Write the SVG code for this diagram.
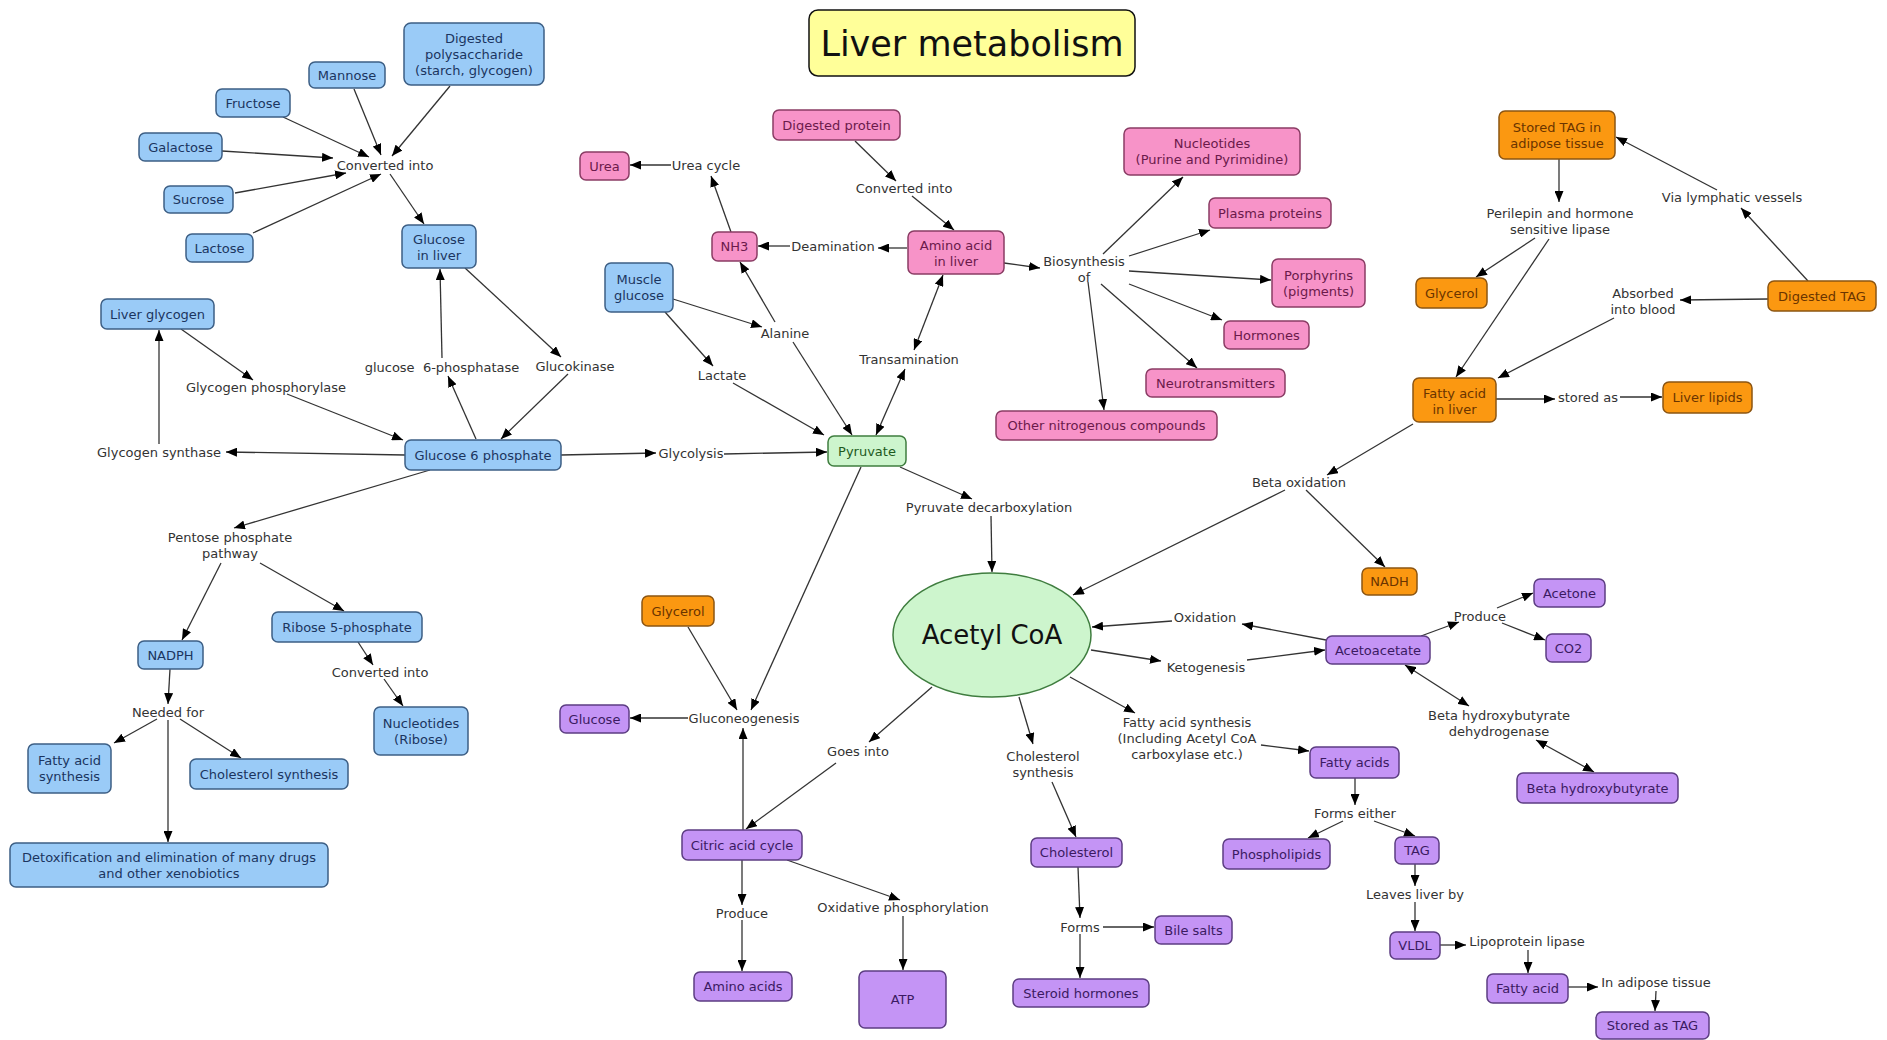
<svg xmlns="http://www.w3.org/2000/svg" width="1887" height="1040" viewBox="0 0 1887 1040">
<style>
text{font-family:"DejaVu Sans",Verdana,"Liberation Sans",sans-serif;font-size:13px;text-anchor:middle;dominant-baseline:central}
rect{stroke-width:1.5}
.b rect{fill:#9acbf7;stroke:#3d5f85}.b text{fill:#1b3560}
.p rect{fill:#f793c8;stroke:#8a3c64}.p text{fill:#6b1a4b}
.o rect{fill:#fb9811;stroke:#8c5512}.o text{fill:#6a3400}
.u rect{fill:#c494f5;stroke:#5c3d82}.u text{fill:#3b1a62}
.g rect,.g ellipse{fill:#cdf5cd;stroke:#3f7d3f;stroke-width:1.5}.g text{fill:#1d5a1d}
.l text{fill:#333}
#connectors line{stroke:#333;stroke-width:1.3;fill:none;marker-end:url(#ah)}
#connectors line.bi{marker-start:url(#ah)}
</style>
<defs>
<marker id="ah" markerUnits="userSpaceOnUse" markerWidth="11" markerHeight="9" refX="11" refY="4.5" orient="auto-start-reverse" viewBox="0 0 11 9"><path d="M0,0 L11,4.5 L0,9 z" fill="#000"/></marker>
</defs>
<rect width="1887" height="1040" fill="#fff" stroke="none"/>

<g id="connectors">
<line x1="354" y1="89" x2="381" y2="155"/>
<line x1="450" y1="86" x2="392" y2="156"/>
<line x1="283" y1="117" x2="369" y2="157"/>
<line x1="222" y1="151" x2="333" y2="158"/>
<line x1="235" y1="193" x2="346" y2="173"/>
<line x1="253" y1="233" x2="381" y2="174"/>
<line x1="390" y1="174" x2="424" y2="224"/>
<line x1="476" y1="439" x2="448" y2="376"/>
<line x1="442" y1="358" x2="440" y2="269"/>
<line x1="465" y1="268" x2="561" y2="357"/>
<line x1="568" y1="374" x2="501" y2="439"/>
<line x1="181" y1="329" x2="253" y2="380"/>
<line x1="287" y1="394" x2="403" y2="440"/>
<line x1="405" y1="455" x2="226" y2="452"/>
<line x1="159" y1="444" x2="159" y2="330"/>
<line x1="430" y1="470" x2="234" y2="528"/>
<line x1="221" y1="563" x2="182" y2="640"/>
<line x1="260" y1="563" x2="344" y2="611"/>
<line x1="358" y1="642" x2="373" y2="665"/>
<line x1="384" y1="679" x2="403" y2="706"/>
<line x1="170" y1="669" x2="168" y2="704"/>
<line x1="157" y1="719" x2="114" y2="743"/>
<line x1="180" y1="719" x2="241" y2="758"/>
<line x1="168" y1="720" x2="168" y2="842"/>
<line x1="561" y1="455" x2="656" y2="453"/>
<line x1="724" y1="454" x2="827" y2="452"/>
<line x1="673" y1="299" x2="762" y2="327"/>
<line x1="665" y1="312" x2="713" y2="366"/>
<line x1="733" y1="383" x2="824" y2="435"/>
<line x1="775" y1="322" x2="740" y2="262"/>
<line x1="793" y1="342" x2="852" y2="435"/>
<line x1="731" y1="232" x2="711" y2="176"/>
<line x1="671" y1="165" x2="630" y2="165"/>
<line x1="855" y1="141" x2="896" y2="181"/>
<line x1="912" y1="196" x2="954" y2="230"/>
<line x1="907" y1="248" x2="878" y2="248"/>
<line x1="790" y1="246" x2="758" y2="246"/>
<line x1="1004" y1="263" x2="1040" y2="268"/>
<line x1="1103" y1="254" x2="1183" y2="177"/>
<line x1="1129" y1="256" x2="1210" y2="230"/>
<line x1="1129" y1="271" x2="1271" y2="280"/>
<line x1="1129" y1="284" x2="1222" y2="320"/>
<line x1="1101" y1="284" x2="1197" y2="368"/>
<line x1="1088" y1="282" x2="1104" y2="410"/>
<line class="bi" x1="943" y1="275" x2="914" y2="350"/>
<line class="bi" x1="905" y1="369" x2="876" y2="435"/>
<line x1="900" y1="467" x2="972" y2="499"/>
<line x1="991" y1="516" x2="992" y2="572"/>
<line x1="861" y1="467" x2="751" y2="710"/>
<line x1="688" y1="627" x2="737" y2="710"/>
<line x1="688" y1="718" x2="630" y2="718"/>
<line x1="743" y1="830" x2="743" y2="728"/>
<line x1="932" y1="687" x2="869" y2="742"/>
<line x1="836" y1="763" x2="746" y2="829"/>
<line x1="1019" y1="697" x2="1033" y2="744"/>
<line x1="1052" y1="782" x2="1076" y2="837"/>
<line x1="1078" y1="867" x2="1080" y2="918"/>
<line x1="1103" y1="927" x2="1154" y2="927"/>
<line x1="1080" y1="934" x2="1080" y2="978"/>
<line x1="742" y1="860" x2="742" y2="905"/>
<line x1="742" y1="920" x2="742" y2="971"/>
<line x1="787" y1="860" x2="900" y2="900"/>
<line x1="903" y1="916" x2="903" y2="970"/>
<line x1="1070" y1="677" x2="1135" y2="713"/>
<line x1="1261" y1="745" x2="1309" y2="751"/>
<line x1="1355" y1="778" x2="1355" y2="805"/>
<line x1="1343" y1="821" x2="1308" y2="838"/>
<line x1="1374" y1="821" x2="1415" y2="836"/>
<line x1="1415" y1="864" x2="1415" y2="886"/>
<line x1="1415" y1="902" x2="1415" y2="931"/>
<line x1="1440" y1="945" x2="1466" y2="945"/>
<line x1="1528" y1="950" x2="1528" y2="973"/>
<line x1="1568" y1="987" x2="1598" y2="987"/>
<line x1="1656" y1="991" x2="1655" y2="1011"/>
<line x1="1326" y1="640" x2="1242" y2="624"/>
<line x1="1172" y1="621" x2="1092" y2="627"/>
<line x1="1091" y1="650" x2="1161" y2="661"/>
<line x1="1247" y1="660" x2="1325" y2="650"/>
<line x1="1421" y1="636" x2="1459" y2="622"/>
<line x1="1497" y1="608" x2="1533" y2="593"/>
<line x1="1502" y1="623" x2="1545" y2="640"/>
<line class="bi" x1="1405" y1="665" x2="1469" y2="706"/>
<line class="bi" x1="1536" y1="740" x2="1594" y2="772"/>
<line x1="1413" y1="424" x2="1327" y2="475"/>
<line x1="1285" y1="490" x2="1073" y2="595"/>
<line x1="1306" y1="490" x2="1385" y2="567"/>
<line x1="1559" y1="159" x2="1559" y2="202"/>
<line x1="1535" y1="238" x2="1476" y2="277"/>
<line x1="1549" y1="239" x2="1456" y2="377"/>
<line x1="1808" y1="281" x2="1741" y2="208"/>
<line x1="1717" y1="190" x2="1616" y2="137"/>
<line x1="1768" y1="299" x2="1680" y2="300"/>
<line x1="1614" y1="318" x2="1498" y2="378"/>
<line x1="1496" y1="399" x2="1555" y2="399"/>
<line x1="1620" y1="397" x2="1662" y2="397"/>
</g>

<g id="title"><rect x="809" y="10" width="326" height="66" rx="9" fill="#ffff99" stroke="#111" stroke-width="3"/><text x="972" y="44" style="font-size:35px;fill:#111">Liver metabolism</text></g>

<g id="link-labels" class="l">
<text x="385" y="165">Converted into</text>
<text x="442" y="367" xml:space="preserve">glucose  6-phosphatase</text>
<text x="575" y="366">Glucokinase</text>
<text x="266" y="387">Glycogen phosphorylase</text>
<text x="159" y="452">Glycogen synthase</text>
<text x="230" y="537">Pentose phosphate</text><text x="230" y="553">pathway</text>
<text x="168" y="712">Needed for</text>
<text x="380" y="672">Converted into</text>
<text x="691" y="453">Glycolysis</text>
<text x="706" y="165">Urea cycle</text>
<text x="904" y="188">Converted into</text>
<text x="833" y="246">Deamination</text>
<text x="1084" y="261">Biosynthesis</text><text x="1084" y="277">of</text>
<text x="785" y="333">Alanine</text>
<text x="722" y="375">Lactate</text>
<text x="909" y="359">Transamination</text>
<text x="989" y="507">Pyruvate decarboxylation</text>
<text x="1205" y="617">Oxidation</text>
<text x="1206" y="667">Ketogenesis</text>
<text x="744" y="718">Gluconeogenesis</text>
<text x="858" y="751">Goes into</text>
<text x="1043" y="756">Cholesterol</text><text x="1043" y="772">synthesis</text>
<text x="1187" y="722">Fatty acid synthesis</text><text x="1187" y="738">(Including Acetyl CoA</text><text x="1187" y="754">carboxylase etc.)</text>
<text x="742" y="913">Produce</text>
<text x="903" y="907">Oxidative phosphorylation</text>
<text x="1080" y="927">Forms</text>
<text x="1480" y="616">Produce</text>
<text x="1499" y="715">Beta hydroxybutyrate</text><text x="1499" y="731">dehydrogenase</text>
<text x="1355" y="813">Forms either</text>
<text x="1415" y="894">Leaves liver by</text>
<text x="1527" y="941">Lipoprotein lipase</text>
<text x="1656" y="982">In adipose tissue</text>
<text x="1299" y="482">Beta oxidation</text>
<text x="1560" y="213">Perilepin and hormone</text><text x="1560" y="229">sensitive lipase</text>
<text x="1732" y="197">Via lymphatic vessels</text>
<text x="1643" y="293">Absorbed</text><text x="1643" y="309">into blood</text>
<text x="1588" y="397">stored as</text>
</g>

<g id="n-poly" class="b"><rect x="404" y="23" width="140" height="62" rx="7"/><text x="474" y="38">Digested</text><text x="474" y="54">polysaccharide</text><text x="474" y="70">(starch, glycogen)</text></g>
<g id="n-mannose" class="b"><rect x="309" y="62" width="76" height="26" rx="6"/><text x="347" y="75">Mannose</text></g>
<g id="n-fructose" class="b"><rect x="216" y="89" width="74" height="28" rx="6"/><text x="253" y="103">Fructose</text></g>
<g id="n-galactose" class="b"><rect x="139" y="133" width="83" height="28" rx="6"/><text x="180.5" y="147">Galactose</text></g>
<g id="n-sucrose" class="b"><rect x="164" y="186" width="69" height="27" rx="6"/><text x="198.5" y="199.5">Sucrose</text></g>
<g id="n-lactose" class="b"><rect x="186" y="234" width="67" height="28" rx="6"/><text x="219.5" y="248">Lactose</text></g>
<g id="n-glucose-liver" class="b"><rect x="402" y="225" width="74" height="43" rx="6"/><text x="439" y="239">Glucose</text><text x="439" y="255">in liver</text></g>
<g id="n-liver-glycogen" class="b"><rect x="101" y="299" width="113" height="30" rx="6"/><text x="157.5" y="314">Liver glycogen</text></g>
<g id="n-g6p" class="b"><rect x="405" y="440" width="156" height="30" rx="6"/><text x="483" y="455">Glucose 6 phosphate</text></g>
<g id="n-ribose5p" class="b"><rect x="272" y="612" width="150" height="30" rx="6"/><text x="347" y="627">Ribose 5-phosphate</text></g>
<g id="n-nadph" class="b"><rect x="138" y="641" width="65" height="28" rx="6"/><text x="170.5" y="655">NADPH</text></g>
<g id="n-nuc-ribose" class="b"><rect x="374" y="707" width="94" height="48" rx="6"/><text x="421" y="723">Nucleotides</text><text x="421" y="739">(Ribose)</text></g>
<g id="n-fa-synth" class="b"><rect x="28" y="744" width="83" height="49" rx="6"/><text x="69.5" y="760">Fatty acid</text><text x="69.5" y="776">synthesis</text></g>
<g id="n-chol-synth" class="b"><rect x="190" y="759" width="158" height="30" rx="6"/><text x="269" y="774">Cholesterol synthesis</text></g>
<g id="n-detox" class="b"><rect x="10" y="843" width="318" height="44" rx="6"/><text x="169" y="857">Detoxification and elimination of many drugs</text><text x="169" y="873">and other xenobiotics</text></g>
<g id="n-muscle-glucose" class="b"><rect x="605" y="263" width="68" height="49" rx="6"/><text x="639" y="279">Muscle</text><text x="639" y="295">glucose</text></g>

<g id="n-dig-protein" class="p"><rect x="773" y="110" width="127" height="30" rx="6"/><text x="836.5" y="125">Digested protein</text></g>
<g id="n-urea" class="p"><rect x="580" y="152" width="49" height="28" rx="6"/><text x="604.5" y="166">Urea</text></g>
<g id="n-nh3" class="p"><rect x="712" y="232" width="45" height="29" rx="6"/><text x="734.5" y="246.5">NH3</text></g>
<g id="n-amino-liver" class="p"><rect x="908" y="231" width="96" height="43" rx="6"/><text x="956" y="245">Amino acid</text><text x="956" y="261">in liver</text></g>
<g id="n-nucleotides" class="p"><rect x="1124" y="128" width="176" height="47" rx="6"/><text x="1212" y="143">Nucleotides</text><text x="1212" y="159">(Purine and Pyrimidine)</text></g>
<g id="n-plasma" class="p"><rect x="1209" y="198" width="122" height="30" rx="6"/><text x="1270" y="213">Plasma proteins</text></g>
<g id="n-porphyrins" class="p"><rect x="1272" y="259" width="93" height="48" rx="6"/><text x="1318.5" y="275">Porphyrins</text><text x="1318.5" y="291">(pigments)</text></g>
<g id="n-hormones" class="p"><rect x="1224" y="321" width="85" height="28" rx="6"/><text x="1266.5" y="335">Hormones</text></g>
<g id="n-neuro" class="p"><rect x="1146" y="369" width="139" height="28" rx="6"/><text x="1215.5" y="383">Neurotransmitters</text></g>
<g id="n-other-n" class="p"><rect x="996" y="411" width="221" height="29" rx="6"/><text x="1106.5" y="425.5">Other nitrogenous compounds</text></g>

<g id="n-pyruvate" class="g"><rect x="828" y="436" width="78" height="30" rx="6"/><text x="867" y="451">Pyruvate</text></g>
<g id="n-acetyl-coa" class="g"><ellipse cx="992" cy="635" rx="99" ry="62"/><text x="992" y="635" style="font-size:26px;fill:#111">Acetyl CoA</text></g>

<g id="n-stored-tag" class="o"><rect x="1499" y="111" width="116" height="48" rx="6"/><text x="1557" y="127">Stored TAG in</text><text x="1557" y="143">adipose tissue</text></g>
<g id="n-glycerol-r" class="o"><rect x="1416" y="278" width="71" height="30" rx="6"/><text x="1451.5" y="293">Glycerol</text></g>
<g id="n-dig-tag" class="o"><rect x="1768" y="281" width="108" height="30" rx="6"/><text x="1822" y="296">Digested TAG</text></g>
<g id="n-fa-liver" class="o"><rect x="1413" y="378" width="83" height="44" rx="6"/><text x="1454.5" y="393">Fatty acid</text><text x="1454.5" y="409">in liver</text></g>
<g id="n-liver-lipids" class="o"><rect x="1663" y="382" width="89" height="31" rx="6"/><text x="1707.5" y="397.5">Liver lipids</text></g>
<g id="n-nadh" class="o"><rect x="1362" y="568" width="55" height="27" rx="6"/><text x="1389.5" y="581.5">NADH</text></g>
<g id="n-glycerol-l" class="o"><rect x="642" y="596" width="72" height="30" rx="6"/><text x="678" y="611">Glycerol</text></g>

<g id="n-glucose" class="u"><rect x="560" y="705" width="69" height="28" rx="6"/><text x="594.5" y="719">Glucose</text></g>
<g id="n-citric" class="u"><rect x="682" y="830" width="120" height="30" rx="6"/><text x="742" y="845">Citric acid cycle</text></g>
<g id="n-amino-acids" class="u"><rect x="694" y="972" width="98" height="29" rx="6"/><text x="743" y="986.5">Amino acids</text></g>
<g id="n-atp" class="u"><rect x="859" y="971" width="87" height="57" rx="6"/><text x="902.5" y="999.5">ATP</text></g>
<g id="n-cholesterol" class="u"><rect x="1031" y="838" width="91" height="29" rx="6"/><text x="1076.5" y="852.5">Cholesterol</text></g>
<g id="n-steroid" class="u"><rect x="1013" y="979" width="136" height="28" rx="6"/><text x="1081" y="993">Steroid hormones</text></g>
<g id="n-bile" class="u"><rect x="1155" y="916" width="77" height="28" rx="6"/><text x="1193.5" y="930">Bile salts</text></g>
<g id="n-acetone" class="u"><rect x="1534" y="579" width="71" height="28" rx="6"/><text x="1569.5" y="593">Acetone</text></g>
<g id="n-co2" class="u"><rect x="1546" y="634" width="45" height="28" rx="6"/><text x="1568.5" y="648">CO2</text></g>
<g id="n-acetoacetate" class="u"><rect x="1326" y="636" width="104" height="28" rx="6"/><text x="1378" y="650">Acetoacetate</text></g>
<g id="n-fatty-acids" class="u"><rect x="1310" y="747" width="89" height="31" rx="6"/><text x="1354.5" y="762.5">Fatty acids</text></g>
<g id="n-bhb" class="u"><rect x="1517" y="773" width="161" height="30" rx="6"/><text x="1597.5" y="788">Beta hydroxybutyrate</text></g>
<g id="n-phospholipids" class="u"><rect x="1223" y="839" width="107" height="30" rx="6"/><text x="1276.5" y="854">Phospholipids</text></g>
<g id="n-tag" class="u"><rect x="1395" y="837" width="44" height="27" rx="6"/><text x="1417" y="850.5">TAG</text></g>
<g id="n-vldl" class="u"><rect x="1390" y="932" width="50" height="27" rx="6"/><text x="1415" y="945.5">VLDL</text></g>
<g id="n-fatty-acid" class="u"><rect x="1487" y="974" width="81" height="29" rx="6"/><text x="1527.5" y="988.5">Fatty acid</text></g>
<g id="n-stored-as-tag" class="u"><rect x="1596" y="1012" width="113" height="27" rx="6"/><text x="1652.5" y="1025.5">Stored as TAG</text></g>
</svg>
